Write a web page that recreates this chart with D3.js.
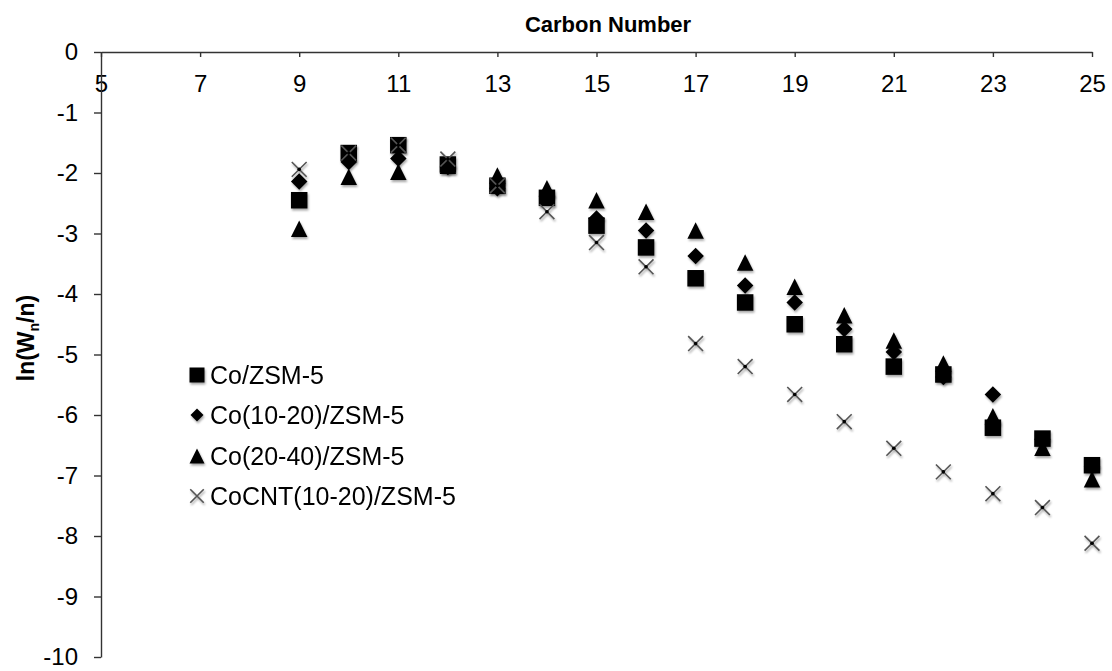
<!DOCTYPE html>
<html><head><meta charset="utf-8">
<script src="https://cdn.jsdelivr.net/npm/d3@7"></script>
<style>body{margin:0;background:#fff}svg{display:block}text{font-family:"Liberation Sans",Arial,sans-serif}</style>
</head><body>
<script>
const carbonNumbers = [9,10,11,12,13,14,15,16,17,18,19,20,21,22,23,24,25];
const coZSM5 =        [-2.45,-1.67,-1.54,-1.86,-2.21,-2.41,-2.87,-3.23,-3.74,-4.14,-4.50,-4.83,-5.20,-5.33,-6.21,-6.39,-6.83];
const co1020ZSM5 =    [-2.14,-1.82,-1.76,-1.90,-2.25,-2.38,-2.75,-2.95,-3.37,-3.86,-4.14,-4.58,-4.96,-5.37,-5.66,-6.40,-6.85];
const co2040ZSM5 =    [-2.92,-2.06,-1.98,-1.88,-2.04,-2.25,-2.45,-2.64,-2.95,-3.48,-3.88,-4.35,-4.77,-5.15,-6.02,-6.54,-7.06];
const cocnt1020ZSM5 = [-1.94,-1.67,-1.54,-1.77,-2.21,-2.64,-3.15,-3.55,-4.82,-5.20,-5.66,-6.11,-6.55,-6.94,-7.30,-7.53,-8.12];
const seriesNames = ["Co/ZSM-5","Co(10-20)/ZSM-5","Co(20-40)/ZSM-5","CoCNT(10-20)/ZSM-5"];
const seriesShapes = ["square","diamond","triangle","cross"];
const xTicks = [5,7,9,11,13,15,17,19,21,23,25];
const yTicks = [0,-1,-2,-3,-4,-5,-6,-7,-8,-9,-10];
const xTitle = "Carbon Number";

const W = 1112, H = 671;
const svg = d3.select("body").append("svg").attr("width", W).attr("height", H);
const defs = svg.append("defs");
const f = defs.append("filter").attr("id","sh").attr("x","-50%").attr("y","-50%").attr("width","200%").attr("height","200%");
f.append("feDropShadow").attr("dx",1).attr("dy",2).attr("stdDeviation",1.2).attr("flood-color","#000").attr("flood-opacity",0.35);

const x = d3.scaleLinear().domain([5,25]).range([101,1092]);
const y = d3.scaleLinear().domain([0,-10]).range([52,657]);

const axisColor = "#333";
const gx = svg.append("g").attr("transform",`translate(0,${y(0)})`)
  .call(d3.axisBottom(x).tickValues(xTicks).tickSizeInner(5).tickSizeOuter(0).tickPadding(18).tickFormat(d=>String(d)));
const gy = svg.append("g").attr("transform",`translate(${x(5)},0)`)
  .call(d3.axisLeft(y).tickValues(yTicks).tickSizeInner(7).tickSizeOuter(0).tickPadding(16).tickFormat(d=>String(d)));
[gx,gy].forEach(g=>{
  g.select(".domain").attr("stroke",axisColor).attr("stroke-width",1.4);
  g.selectAll(".tick line").attr("stroke",axisColor).attr("stroke-width",1.4);
  g.selectAll("text").attr("fill","#000").style("font-size","24px").style("font-family",'"Liberation Sans",Arial,sans-serif');
});

svg.append("text").attr("x",608).attr("y",32).attr("text-anchor","middle")
  .style("font-size","22px").style("font-weight","bold").text(xTitle);

const yl = svg.append("text").attr("transform","translate(34,338) rotate(-90)").attr("text-anchor","middle")
  .style("font-size","23px").style("font-weight","bold");
yl.append("tspan").text("ln(W");
yl.append("tspan").text("n").style("font-size","14px").attr("dy",5);
yl.append("tspan").text("/n)").attr("dy",-5);

function marker(g, shape, s){
  const h = s/2;
  if(shape==="square") g.append("rect").attr("x",-h).attr("y",-h).attr("width",s).attr("height",s).attr("fill","#000");
  else if(shape==="diamond") g.append("path").attr("d",`M0,${-h}L${h},0L0,${h}L${-h},0Z`).attr("fill","#000");
  else if(shape==="triangle") g.append("path").attr("d",`M0,${-h}L${h},${h}L${-h},${h}Z`).attr("fill","#000");
  else {
    g.append("path").attr("d",`M${-h*0.9},${-h*0.9}L${h*0.9},${h*0.9}M${h*0.9},${-h*0.9}L${-h*0.9},${h*0.9}`)
      .attr("stroke","#555").attr("stroke-width",1.6).attr("fill","none");
  }
}

const allSeries = [coZSM5, co1020ZSM5, co2040ZSM5, cocnt1020ZSM5];
allSeries.forEach((vals,si)=>{
  const g = svg.append("g").attr("filter","url(#sh)");
  vals.forEach((v,i)=>{
    const m = g.append("g").attr("transform",`translate(${x(carbonNumbers[i])},${y(v)})`);
    marker(m, seriesShapes[si], 16.5);
    if(seriesShapes[si]==="cross") m.append("circle").attr("r",1.8).attr("fill","#000");
  });
});

const legendRows = [375,415,456,496];
seriesNames.forEach((name,i)=>{
  const g = svg.append("g").attr("transform",`translate(197,${legendRows[i]})`);
  const lm = g.append("g").attr("filter","url(#sh)");
  marker(lm, seriesShapes[i], seriesShapes[i]==="diamond"?13:15);
  g.append("text").attr("x",13).attr("y",0).attr("dy","0.35em").style("font-size","25px").text(name);
});
</script>
</body></html>
